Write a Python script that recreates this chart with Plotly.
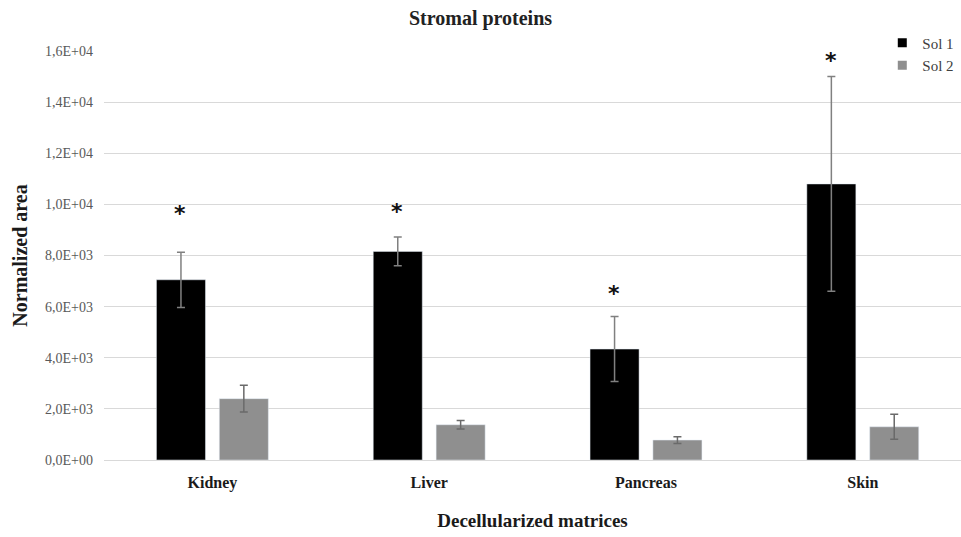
import plotly.graph_objects as go

categories = ["Kidney", "Liver", "Pancreas", "Skin"]
sol1 = [7050, 8160, 4340, 10800]
sol1_err = [1080, 560, 1270, 4200]
sol2 = [2400, 1380, 780, 1300]
sol2_err = [520, 170, 130, 490]
star_y = [9660, 9740, 6530, 15610]
tick_vals = [0, 2000, 4000, 6000, 8000, 10000, 12000, 14000, 16000]
tick_text = ["0,0E+00", "2,0E+03", "4,0E+03", "6,0E+03", "8,0E+03",
             "1,0E+04", "1,2E+04", "1,4E+04", "1,6E+04"]
series_names = ["Sol 1", "Sol 2"]
series_colors = ["#000000", "#8f8f8f"]

FONT = "Liberation Serif"

fig = go.Figure()
fig.add_trace(go.Bar(
    x=categories, y=sol1, name=series_names[0], showlegend=False,
    marker=dict(color=series_colors[0]),
    error_y=dict(type="data", array=sol1_err, color="#808080", thickness=1.5, width=4),
))
fig.add_trace(go.Bar(
    x=categories, y=sol2, name=series_names[1], showlegend=False,
    marker=dict(color=series_colors[1]),
    error_y=dict(type="data", array=sol2_err, color="#6a6a6a", thickness=1.5, width=4),
))
# legend entries with small square symbols
for nm, col in zip(series_names, series_colors):
    fig.add_trace(go.Scatter(x=[None], y=[None], mode="markers", name=nm,
                             marker=dict(symbol="square", size=9, color=col)))

for c, sy in zip(categories, star_y):
    fig.add_annotation(x=c, y=sy, text="<b>*</b>", showarrow=False, xshift=-32,
                       font=dict(family="DejaVu Sans", size=22, color="#111111"))

fig.update_layout(
    width=961, height=537,
    paper_bgcolor="white", plot_bgcolor="white",
    margin=dict(l=104, r=0, t=51, b=77),
    barmode="group", bargap=0.42, bargroupgap=0.22,
    title=dict(text="<b>Stromal proteins</b>", x=0.5, xanchor="center", y=0.967, yanchor="middle",
               font=dict(family=FONT, size=20, color="#222222")),
    legend=dict(x=0.998, xanchor="right", y=1.06, yanchor="top",
                font=dict(family=FONT, size=15, color="#404040"),
                bgcolor="rgba(0,0,0,0)", itemwidth=30, tracegroupgap=0),
    showlegend=True,
)
fig.update_xaxes(
    range=[-0.5, 3.453], showgrid=False, showline=True, linecolor="#d9d9d9", linewidth=1,
    ticks="", ticklabelstandoff=8, tickfont=dict(family=FONT, size=16, color="#1a1a1a"),
    tickprefix="<b>", ticksuffix="</b>",
    title=dict(text="<b>Decellularized matrices</b>", standoff=22,
               font=dict(family=FONT, size=19, color="#1a1a1a")),
)
fig.update_yaxes(
    range=[0, 16000], tickvals=tick_vals, ticktext=tick_text,
    showgrid=True, gridcolor="#d9d9d9", gridwidth=1, zeroline=False,
    ticks="", ticklabelstandoff=10,
    tickfont=dict(family=FONT, size=14, color="#595959"),
    title=dict(text="<b>Normalized area</b>", standoff=12,
               font=dict(family=FONT, size=20, color="#1a1a1a")),
)

fig.write_html("out.html")
